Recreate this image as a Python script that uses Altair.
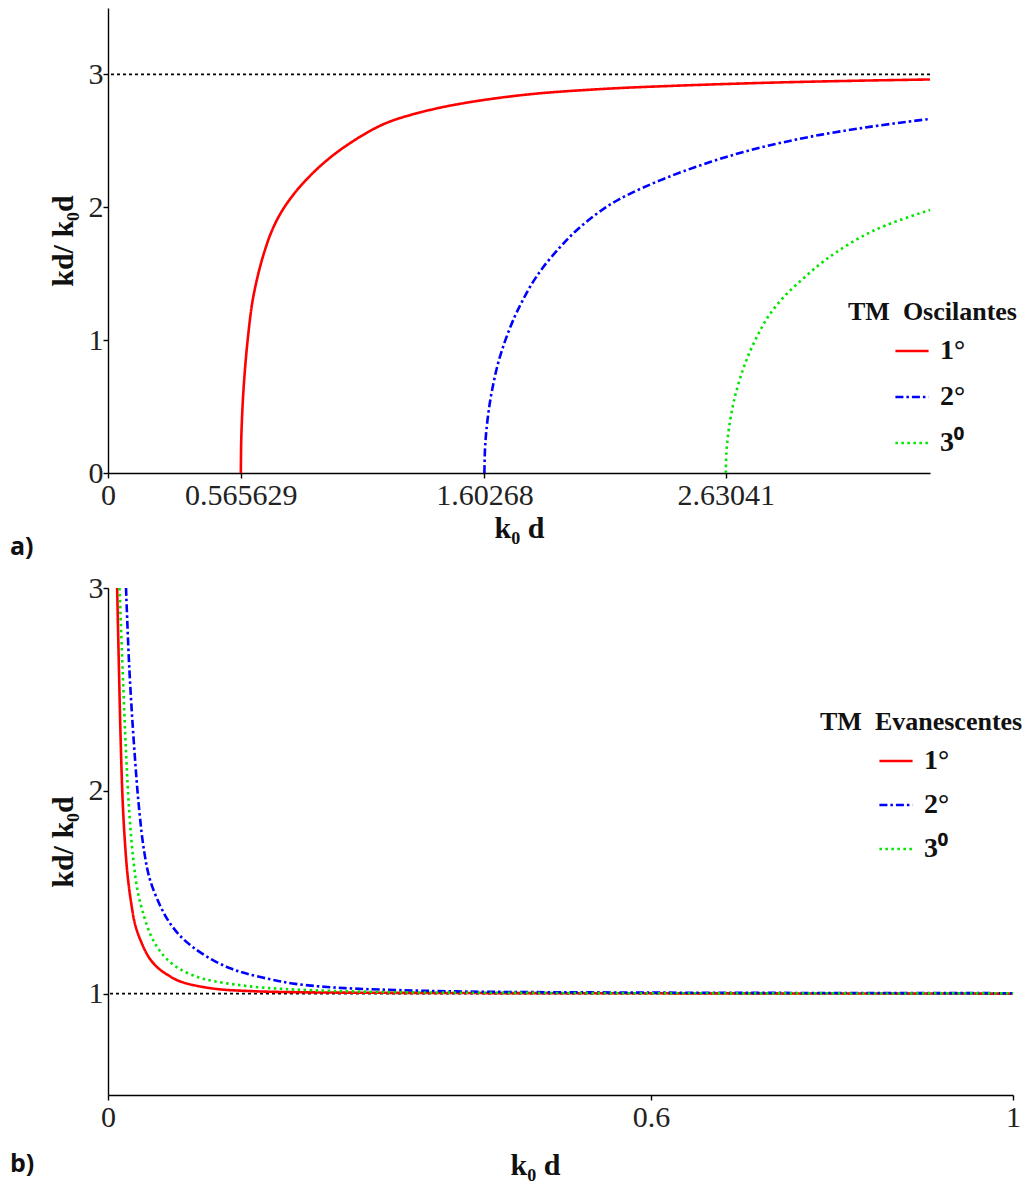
import altair as alt
import pandas as pd

# ---------------- data ----------------
modes = ["1°", "2°", "3⁰"]
colors = ["#ff0000", "#0000ff", "#00e600"]
dashes = [[1, 0], [8, 3, 2.5, 3], [2.5, 3.5]]

# Panel a) TM oscillating modes
a1_x = [0.565629, 0.567, 0.570, 0.576, 0.586, 0.597, 0.615, 0.640, 0.665, 0.697,
        0.74, 0.796, 0.85, 0.89, 0.939, 1.0, 1.109, 1.2, 1.365, 1.536, 1.792, 2.10,
        2.389, 2.80, 3.20, 3.5]
a1_y = [0.0, 0.22, 0.39, 0.60, 0.84, 1.04, 1.29, 1.50, 1.66, 1.82,
        1.97, 2.11, 2.218, 2.288, 2.364, 2.446, 2.568, 2.645, 2.73, 2.79, 2.85, 2.89,
        2.913, 2.937, 2.953, 2.962]
a2_x = [1.60268, 1.605, 1.610, 1.621, 1.635, 1.660, 1.692, 1.73, 1.763, 1.80,
        1.849, 1.92, 1.991, 2.08, 2.176, 2.389, 2.673, 2.958, 3.242, 3.5]
a2_y = [0.0, 0.17, 0.30, 0.47, 0.62, 0.82, 1.00, 1.17, 1.29, 1.41,
        1.54, 1.69, 1.82, 1.95, 2.06, 2.23, 2.40, 2.52, 2.605, 2.665]
a3_x = [2.63041, 2.633, 2.638, 2.645, 2.66, 2.673, 2.70, 2.730, 2.77, 2.816,
        2.88, 2.958, 3.03, 3.100, 3.2, 3.313, 3.5]
a3_y = [0.0, 0.15, 0.25, 0.35, 0.50, 0.60, 0.76, 0.90, 1.05, 1.19,
        1.33, 1.46, 1.57, 1.66, 1.77, 1.865, 1.98]

# Panel b) TM evanescent modes
b1_x = [0.0101, 0.0120, 0.0140, 0.0160, 0.0185, 0.0215, 0.0255, 0.030, 0.0362,
        0.045, 0.0543, 0.065, 0.0797, 0.116, 0.16, 0.207, 0.3, 0.5, 1.0]
b1_y = [3.0, 2.62, 2.25, 1.97, 1.76, 1.59, 1.45, 1.34, 1.26,
        1.18, 1.13, 1.095, 1.06, 1.025, 1.012, 1.007, 1.004, 1.002, 1.0]
b2_x = [0.0199, 0.0236, 0.029, 0.0344, 0.040, 0.0465, 0.058, 0.068, 0.0797,
        0.095, 0.116, 0.135, 0.152, 0.18, 0.207, 0.25, 0.30, 0.40, 0.6, 0.8, 1.0]
b2_y = [3.0, 2.60, 2.21, 1.91, 1.70, 1.56, 1.43, 1.35, 1.285,
        1.225, 1.165, 1.125, 1.10, 1.07, 1.048, 1.03, 1.02, 1.01, 1.005, 1.003, 1.002]
b3_x = [0.0127, 0.0163, 0.0199, 0.0236, 0.028, 0.033, 0.0399, 0.047, 0.0543,
        0.065, 0.0797, 0.1, 0.116, 0.14, 0.170, 0.207, 0.3, 0.5, 0.75, 1.0]
b3_y = [3.0, 2.58, 2.19, 1.89, 1.66, 1.50, 1.38, 1.29, 1.23,
        1.17, 1.12, 1.08, 1.062, 1.045, 1.03, 1.02, 1.008, 1.003, 1.001, 1.001]

a_xticks = [0, 0.565629, 1.60268, 2.63041]
a_yticks = [0, 1, 2, 3]
b_xticks = [0, 0.6, 1]
b_yticks = [1, 2, 3]
a_asymptote = 3
b_asymptote = 1


def frame(series):
    rows = []
    for mode, xs, ys in series:
        for x, y in zip(xs, ys):
            rows.append({"x": x, "y": y, "mode": mode})
    return pd.DataFrame(rows)


df_a = frame([(modes[0], a1_x, a1_y), (modes[1], a2_x, a2_y), (modes[2], a3_x, a3_y)])
df_b = frame([(modes[0], b1_x, b1_y), (modes[1], b2_x, b2_y), (modes[2], b3_x, b3_y)])

SERIF = "Liberation Serif"


def legend(title, lx, ly, offset, row_pad):
    return alt.Legend(
        title=title, orient="none", legendX=lx, legendY=ly,
        symbolType="stroke", symbolSize=1100, symbolStrokeWidth=2.6,
        symbolOffset=offset, labelOffset=10, padding=0,
        labelFont=SERIF, labelFontSize=28, labelFontWeight="bold", labelColor="#111",
        labelLimit=200,
        titleFont=SERIF, titleFontSize=26, titleFontWeight="bold", titleColor="#111",
        titleLimit=400, titlePadding=8, rowPadding=row_pad,
    )


def panel(df, asym, xdom, ydom, xticks, yticks, w, h, leg, lbl, x_tpad, lbl_offset,
          title_x=None):
    xaxis_kw = dict(
        values=xticks, format=".6~g", title="k₀ d", labelFlush=False,
        labelPadding=2, titlePadding=x_tpad,
    )
    if title_x is not None:
        xaxis_kw["titleX"] = title_x
    x = alt.X("x:Q", scale=alt.Scale(domain=xdom, nice=False, zero=False),
              axis=alt.Axis(**xaxis_kw))
    y = alt.Y("y:Q", scale=alt.Scale(domain=ydom, nice=False, zero=False),
              axis=alt.Axis(values=yticks, format=".6~g", title="kd/ k₀d",
                            labelPadding=0, titlePadding=10))
    rule = alt.Chart(pd.DataFrame({"v": [asym]})).mark_rule(
        color="black", strokeDash=[3, 3], strokeWidth=1.8
    ).encode(y=alt.Y("v:Q", scale=alt.Scale(domain=ydom, nice=False, zero=False)))
    lines = alt.Chart(df).mark_line(strokeWidth=2.6, interpolate="catmull-rom").encode(
        x=x, y=y,
        color=alt.Color("mode:N", scale=alt.Scale(domain=modes, range=colors), legend=leg),
        strokeDash=alt.StrokeDash("mode:N", scale=alt.Scale(domain=modes, range=dashes),
                                  legend=leg),
    )
    return alt.layer(rule, lines).properties(
        width=w, height=h,
        title=alt.TitleParams(lbl, orient="bottom", anchor="start", frame="group",
                              dx=-98, offset=lbl_offset, font="Open Sans", fontSize=25,
                              fontWeight="bold", color="#111"),
    )


top = panel(df_a, a_asymptote, [0, 3.5], [0, 3.5], a_xticks, a_yticks, 822, 465,
            legend("TM\u00a0 Oscilantes", 740, 291, 46, 14), "a)", 3, -8)
bottom = panel(df_b, b_asymptote, [0, 1], [0.5, 3], b_xticks, b_yticks, 905, 507,
               legend("TM\u00a0 Evanescentes", 712, 121, 58, 12), "b)", 18, -28,
               title_x=427)

chart = alt.vconcat(top, bottom, spacing=13).resolve_scale(
    color="independent", strokeDash="independent", x="independent", y="independent"
).resolve_legend(
    color="independent", strokeDash="independent"
).properties(
    padding={"left": 2, "top": 0, "right": 0, "bottom": 2}
).configure_view(stroke=None).configure_axis(
    grid=False, domainColor="black", domainWidth=1.4, tickColor="black", tickWidth=1.4,
    tickSize=5, labelFont=SERIF, labelFontSize=30, labelColor="#222",
    titleFont=SERIF, titleFontSize=30, titleFontWeight="bold", titleColor="#111",
)

chart.save("out.html", embed_options={"renderer": "svg", "actions": False})
